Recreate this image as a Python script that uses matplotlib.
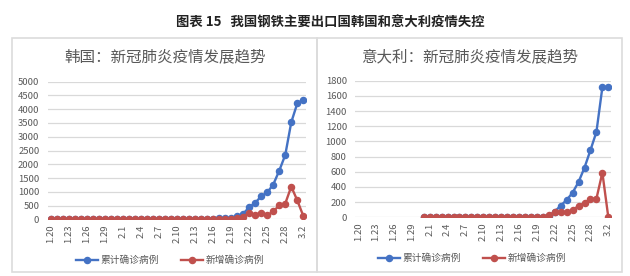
import numpy as np
import matplotlib
matplotlib.use('Agg')
import matplotlib.pyplot as plt
from matplotlib.patches import Rectangle

plt.rcParams['font.family'] = ['Noto Sans CJK SC', 'DejaVu Sans']

# dates 1.20 .. 3.2 (2020)
dates = ([f"1.{d}" for d in range(20, 32)] + [f"2.{d}" for d in range(1, 30)]
         + ["3.1", "3.2"])

kr_total = [1, 1, 1, 1, 2, 2, 3, 4, 4, 4, 6, 11,
            12, 15, 15, 16, 19, 23, 24, 24, 27, 27, 28, 28, 28, 28, 28, 29, 30, 31, 51,
            104, 204, 433, 602, 833, 977, 1261, 1766, 2337, 3526, 4212, 4335]
kr_new = [1, 0, 0, 0, 1, 0, 1, 1, 0, 0, 2, 5,
          1, 3, 0, 1, 3, 4, 1, 0, 3, 0, 1, 0, 0, 0, 0, 1, 1, 1, 20,
          53, 100, 229, 169, 231, 144, 284, 505, 571, 1189, 686, 123]

# Italy series starts on 1.31
it_start = 11
it_total = [2, 2, 2, 2, 2, 2, 2, 3, 3, 3, 3, 3, 3, 3, 3, 3, 3, 3, 3, 3, 3,
            20, 75, 154, 228, 325, 465, 655, 885, 1125, 1712, 1712]
it_new = [0, 0, 0, 0, 0, 0, 0, 1, 0, 0, 0, 0, 0, 0, 0, 0, 0, 0, 0, 0, 0,
          25, 65, 75, 65, 95, 150, 190, 240, 245, 588, 0]

BLUE = '#4472C4'
RED = '#C0504D'
GRAY = '#595959'

fig = plt.figure(figsize=(6.3, 2.76), dpi=100)
W, H = 630, 276

def fx(px):
    return px / W

def fy(py):
    return 1 - py / H

# panel frames
for x0, x1 in [(12, 317), (317, 622)]:
    fig.patches.append(Rectangle((fx(x0), fy(272)), fx(x1 - x0), (272 - 38) / H,
                                 transform=fig.transFigure, fill=False,
                                 edgecolor='#dcdcdc', linewidth=1.2))

fig.text(fx(330), fy(23), "图表 15   我国钢铁主要出口国韩国和意大利疫情失控",
         ha='center', va='center', fontsize=9.6, fontweight='bold', color='#222222')


def draw(ax, x_tot, y_tot, x_new, y_new, ymax, ystep, title, title_x, leg_x, leg_y):
    ax.plot(x_tot, y_tot, color=BLUE, lw=1.7, marker='o', ms=4.4, label='累计确诊病例')
    ax.plot(x_new, y_new, color=RED, lw=1.7, marker='o', ms=4.4, label='新增确诊病例')
    ax.set_xlim(-0.5, len(dates) - 0.5)
    ax.set_ylim(0, ymax)
    ax.set_yticks(np.arange(0, ymax + 1, ystep))
    ax.set_xticks(range(0, len(dates), 3))
    ax.set_xticklabels(dates[::3], rotation=90)
    ax.tick_params(axis='both', length=0, labelsize=6.8, colors=GRAY)
    ax.tick_params(axis='x', pad=4)
    ax.tick_params(axis='y', pad=6)
    ax.grid(axis='y', color='#d9d9d9', lw=0.9)
    ax.set_axisbelow(True)
    for s in ax.spines.values():
        s.set_visible(False)
    fig.text(fx(title_x), fy(57), title, ha='center', va='center',
             fontsize=11.2, color=GRAY)
    ax.legend(loc='center', bbox_to_anchor=(fx(leg_x), fy(leg_y)),
              bbox_transform=fig.transFigure, ncol=2, frameon=False,
              fontsize=7, labelcolor=GRAY, handlelength=2.3, columnspacing=2.2,
              handletextpad=0.3)


ax1 = fig.add_axes([fx(47.7), fy(219.3), fx(306.3 - 47.7), (219.3 - 81.7) / H])
idx = np.arange(len(dates))
draw(ax1, idx, kr_total, idx, kr_new, 5000, 500,
     "韩国：新冠肺炎疫情发展趋势", 165, 170, 260)

ax2 = fig.add_axes([fx(355.3), fy(217.3), fx(611.3 - 355.3), (217.3 - 80.7) / H])
idx_it = np.arange(it_start, it_start + len(it_total))
draw(ax2, idx_it, it_total, idx_it, it_new, 1800, 200,
     "意大利：新冠肺炎疫情发展趋势", 470, 472, 258)

fig.savefig('out.png', dpi=100)
